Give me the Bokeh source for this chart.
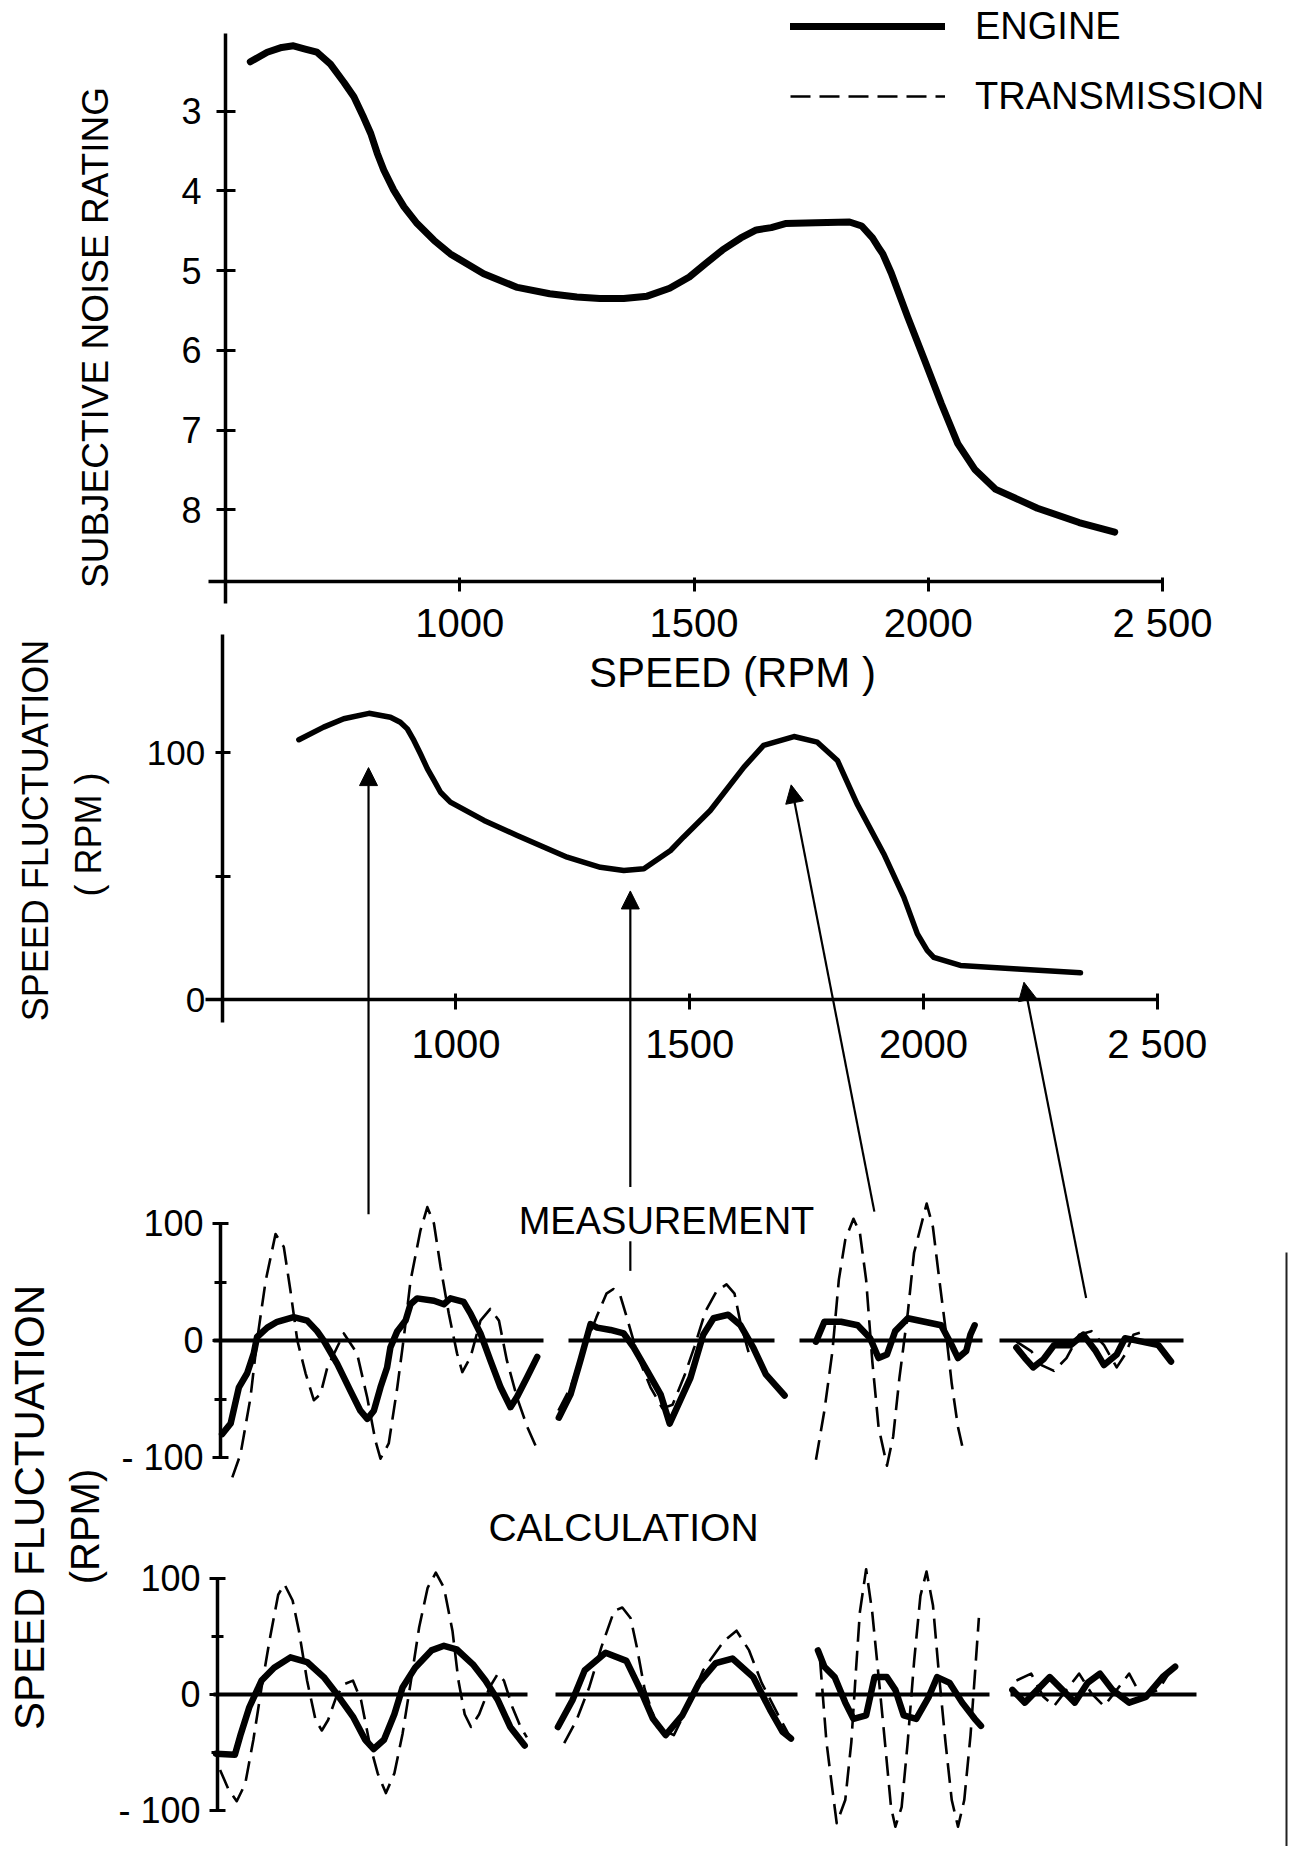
import math
from bokeh.plotting import figure
from bokeh.models import (Range1d, LinearAxis, FixedTicker, Legend, LegendItem,
                          Arrow, NormalHead, ColumnDataSource)
from bokeh.core.properties import value
from bokeh.embed import file_html
from bokeh.resources import INLINE

FONT = "Liberation Sans"

# ---------------- data ----------------
# Top: subjective noise rating vs engine speed
noise_rpm = [553, 589, 620, 645, 670, 695, 724, 753, 774, 795, 810, 824, 838, 859, 881, 909,
             945, 980, 1051, 1123, 1192, 1250, 1299, 1350, 1400, 1448, 1490, 1525, 1561, 1600,
             1633, 1665, 1695, 1760, 1832, 1858, 1881, 1894, 1903, 1921, 1956, 1992, 2028,
             2063, 2099, 2143, 2233, 2322, 2398]
noise_rating = [2.38, 2.26, 2.20, 2.18, 2.22, 2.26, 2.41, 2.64, 2.82, 3.08, 3.28, 3.53, 3.74,
                3.99, 4.20, 4.41, 4.62, 4.79, 5.04, 5.21, 5.29, 5.33, 5.35, 5.35, 5.32, 5.22,
                5.08, 4.91, 4.74, 4.59, 4.49, 4.46, 4.41, 4.40, 4.39, 4.44, 4.59, 4.71, 4.79,
                5.03, 5.58, 6.12, 6.67, 7.17, 7.49, 7.74, 7.98, 8.16, 8.28]

# Middle: speed fluctuation vs engine speed
fluct_rpm = [664, 717, 760, 814, 860, 881, 896, 910, 924, 939, 953, 967, 988, 1060, 1131,
             1238, 1309, 1359, 1402, 1459, 1487, 1544, 1616, 1658, 1723, 1773, 1816, 1858,
             1915, 1958, 1987, 2008, 2022, 2079, 2201, 2336]
fluct_amp = [105.3, 110.4, 113.8, 116.0, 114.4, 112.4, 109.7, 105.0, 99.6, 93.5, 88.8, 84.0,
             80.0, 72.6, 66.5, 57.7, 53.6, 52.3, 53.0, 60.4, 65.9, 76.6, 94.2, 103.0, 106.6,
             104.3, 96.9, 79.3, 59.1, 41.5, 26.6, 19.9, 17.1, 13.8, 12.4, 10.8]

# Arrows: from the traces up to the operating points
arrow_tail_rpm = [813, 1373, 1895, 2348]
arrow_tail_level = [-87, -76, -86, -121]
arrow_tip_rpm = [813, 1373, 1717, 2215]
arrow_tip_level = [94, 44, 87, 7]
marker_rpm = [1373]
marker_lo = [-110]
marker_hi = [-98]

# Trace window (percent of time window) and traces, value in RPM
WINDOW = [0, 100]

# Measurement
m1_eng_t = [2.6, 5.2, 7.7, 10.2, 12.2, 13.2, 16.3, 19.3, 24.3, 28.4, 31.4, 33.4, 37.5, 41.5,
            44.5, 46.6, 48.6, 50.6, 52.6, 53.6, 55.7, 58.2, 59.7, 61.7, 66.8, 69.8, 71.8,
            75.8, 77.9, 80.9, 83.9, 87.0, 90.0, 92.0, 95.1, 98.1]
m1_eng_v = [-80, -71, -40, -28, -11, 3, 11, 16, 20, 17, 8, 0, -20, -43, -60, -67, -60, -40,
            -23, -6, 8, 17, 31, 36, 34, 31, 36, 33, 23, 6, -17, -40, -57, -48, -31, -14]
m1_trn_t = [5.7, 8.2, 11.2, 13.2, 15.8, 18.8, 21.3, 23.3, 25.4, 27.9, 30.4, 32.4, 34.5, 39.5,
            43.5, 46.6, 49.1, 50.6, 53.1, 55.7, 57.7, 59.7, 62.7, 64.8, 66.8, 68.8, 71.3,
            73.8, 75.4, 77.9, 80.9, 83.9, 86.5, 88.9, 92.0, 95.1, 97.6]
m1_trn_v = [-117, -97, -49, 0, 51, 91, 80, 43, 0, -28, -51, -46, -23, 6, -11, -49, -86, -101,
            -88, -40, 3, 51, 94, 114, 100, 63, 23, -11, -27, -14, 17, 27, 17, -17, -49, -74, -90]

m2_eng_t = [-4.7, 1.0, 5.8, 10.7, 13.9, 20.4, 26.8, 31.7, 38.2, 44.7, 49.1, 59.2, 65.4, 70.4,
            77.5, 83.5, 89.7, 95.8, 104.9]
m2_eng_v = [-66, -46, -17, 14, 11, 9, 6, -6, -26, -46, -71, -32, 5, 19, 22, 13, -6, -29, -47]
m2_trn_t = [-4.9, 1.0, 5.8, 13.6, 18.4, 21.8, 25.2, 29.1, 34.0, 39.8, 45.6, 50.5, 56.3, 61.2,
            66.5, 71.8, 76.7, 80.6, 83.5, 87.4]
m2_trn_v = [-60, -40, -15, 20, 40, 44, 38, 15, -15, -40, -58, -55, -30, -5, 25, 42, 48, 40, 15, -10]

m3_eng_t = [9.0, 13.6, 22.7, 31.8, 38.6, 43.2, 47.8, 52.3, 59.2, 68.3, 77.4, 83.2, 86.6, 91.1,
            93.4, 95.7]
m3_eng_v = [-1, 16, 16, 13, 2, -15, -12, 8, 19, 16, 13, -4, -15, -9, 5, 13]
m3_trn_t = [9.0, 13.6, 18.0, 21.5, 25.0, 29.5, 33.0, 36.4, 39.8, 43.2, 47.8, 51.2, 54.6, 59.2,
            62.6, 69.5, 72.9, 76.4, 79.8, 83.2, 86.6, 88.9]
m3_trn_v = [-102, -60, -9, 52, 86, 104, 92, 52, -18, -74, -107, -82, -32, 24, 75, 117, 97, 52,
            10, -37, -74, -90]

m4_eng_t = [9.2, 13.8, 18.3, 23.9, 29.6, 38.6, 45.5, 52.3, 56.8, 63.7, 68.2, 77.3, 86.4, 93.2]
m4_eng_v = [-6, -15, -23, -16, -4, -4, 5, -9, -21, -12, 2, -1, -4, -18]
m4_trn_t = [9.2, 17.2, 22.8, 29.6, 36.4, 43.3, 50.0, 56.8, 63.7, 68.2, 72.8, 79.6]
m4_trn_v = [-1, -9, -21, -26, -15, 5, 8, -4, -23, -12, 5, 8]

# Calculation
c1_eng_t = [0.8, 6.8, 8.7, 11.4, 15.3, 19.3, 24.5, 29.8, 35.1, 39.1, 44.4, 48.3, 51.0, 54.3,
            57.6, 60.2, 64.2, 69.4, 73.4, 77.4, 82.6, 86.6, 90.6, 94.5, 99.1]
c1_eng_v = [-51, -52, -34, -11, 12, 23, 32, 28, 15, 1, -19, -39, -47, -39, -17, 6, 23, 38, 42,
            39, 26, 12, -5, -28, -44]
c1_trn_t = [2.1, 4.8, 7.4, 10.1, 12.7, 15.3, 18.0, 20.6, 22.6, 25.2, 27.2, 29.8, 32.5, 34.5,
            36.5, 39.1, 41.7, 44.4, 47.0, 49.7, 52.3, 54.9, 57.6, 60.2, 62.9, 65.5, 68.2,
            70.8, 73.4, 76.1, 78.0, 80.0, 82.0, 84.6, 87.9, 90.6, 92.5, 95.2, 97.8, 99.8]
c1_trn_v = [-65, -82, -92, -77, -39, 6, 49, 86, 95, 81, 55, 12, -22, -31, -22, -2, 9, 12, -5,
            -42, -68, -85, -68, -34, 12, 58, 92, 105, 92, 55, 12, -17, -28, -17, 6, 18, 12,
            -11, -28, -37]

c2_eng_t = [1.0, 7.0, 12.1, 20.7, 29.3, 35.1, 40.3, 45.5, 52.4, 59.3, 66.2, 73.1, 81.7, 88.6,
            93.8, 97.3]
c2_eng_v = [-28, -5, 21, 36, 29, 4, -21, -35, -18, 10, 27, 31, 15, -13, -32, -38]
c2_trn_t = [3.6, 8.7, 13.9, 19.0, 24.2, 27.6, 31.0, 33.6, 36.8, 42.0, 48.9, 54.1, 61.0, 69.6,
            74.8, 80.0, 85.2, 92.1, 97.3]
c2_trn_v = [-42, -22, 6, 41, 72, 75, 66, 41, 5, -28, -35, -13, 21, 46, 55, 38, 10, -18, -38]

c3_eng_t = [1.4, 5.1, 11.0, 17.1, 21.8, 29.1, 33.9, 41.0, 45.9, 50.7, 57.9, 65.1, 69.9, 77.1,
            84.3, 91.5, 95.1]
c3_eng_v = [38, 24, 15, -7, -21, -18, 15, 15, 4, -18, -21, -2, 15, 10, -7, -21, -27]
c3_trn_t = [2.6, 6.3, 9.8, 12.2, 17.1, 20.6, 23.0, 25.5, 29.1, 32.6, 36.3, 39.9, 43.4, 45.9,
            49.5, 53.0, 56.7, 60.3, 63.8, 67.5, 71.1, 74.7, 78.3, 81.9, 85.5, 89.1, 91.5, 93.9]
c3_trn_v = [30, -41, -83, -111, -91, -41, 15, 71, 108, 71, 15, -41, -97, -114, -97, -41, 29,
            85, 106, 77, 15, -41, -91, -114, -91, -35, 15, 66]

c4_eng_t = [1.0, 7.7, 14.4, 21.1, 27.9, 34.6, 41.4, 48.1, 54.8, 63.8, 72.8, 81.8, 88.5]
c4_eng_v = [4, -7, 4, 15, 4, -7, 10, 18, 4, -7, -2, 15, 24]
c4_trn_t = [3.2, 11.1, 17.7, 23.4, 30.1, 36.9, 43.5, 50.3, 57.1, 63.8, 70.5, 79.5, 86.3]
c4_trn_v = [12, 18, -2, -10, 4, 18, 1, -10, 4, 18, -2, 4, 21]

# ---------------- layout (page pixels) ----------------
W, H, OFF = 1288, 1846, 0
MEAS_WIN = [(213, 543), (568, 774), (799, 982), (999, 1183)]
CALC_WIN = [(213, 527), (555, 797), (815, 989), (1010, 1196)]


def xr(v1, p1, v2, p2):
    k = (v2 - v1) / (p2 - p1)
    return Range1d(start=v1 + (OFF - p1) * k, end=v1 + (OFF + W - p1) * k)


def yr(v1, p1, v2, p2):
    k = (v2 - v1) / (p2 - p1)
    return Range1d(start=v1 + (OFF + H - p1) * k, end=v1 + (OFF - p1) * k)


p = figure(width=W, height=H, x_range=Range1d(OFF, OFF + W), y_range=Range1d(OFF + H, OFF),
           x_axis_type=None, y_axis_type=None, output_backend="svg",
           toolbar_location=None, min_border=0)
p.outline_line_color = None
p.background_fill_color = "white"

xranges = {"top": xr(500, 225, 2500, 1162), "mid": xr(500, 221.7, 2500, 1156.7)}
for i, (a, b) in enumerate(MEAS_WIN):
    xranges[f"m{i}"] = xr(WINDOW[0], a, WINDOW[1], b)
for i, (a, b) in enumerate(CALC_WIN):
    xranges[f"c{i}"] = xr(WINDOW[0], a, WINDOW[1], b)
p.extra_x_ranges = xranges
p.extra_y_ranges = {"noise": yr(3, 110.7, 8, 509.3), "fluct": yr(0, 999, 100, 752.3),
                    "meas": yr(0, 1340, 100, 1223), "calc": yr(0, 1694, 100, 1578)}


def axis(side, xname, yname, loc, ticks, minor, overrides, bounds, tin, tout, standoff,
         fsize, mtin=0, mtout=0):
    ax = LinearAxis(x_range_name=xname, y_range_name=yname, fixed_location=loc,
                    ticker=FixedTicker(ticks=ticks, minor_ticks=minor), bounds=bounds,
                    major_label_overrides=overrides, major_tick_in=tin, major_tick_out=tout,
                    minor_tick_in=mtin, minor_tick_out=mtout, major_label_standoff=standoff,
                    axis_line_width=3.5, major_tick_line_width=3, minor_tick_line_width=3,
                    axis_line_color="black", major_tick_line_color="black",
                    minor_tick_line_color="black", major_label_text_color="black",
                    major_label_text_font=FONT, major_label_text_font_size=f"{fsize}px")
    p.add_layout(ax, side)
    return ax


# top chart axes
axis("left", "top", "noise", 500, [3, 4, 5, 6, 7, 8], [], {}, (2.03, 9.17), 10, 9, 15, 36)
axis("below", "top", "noise", 8.9, [1000, 1500, 2000, 2500], [], {2500: "2 500"},
     (464, 2500), 4, 10, 9, 40)
# middle chart axes
axis("left", "mid", "fluct", 500, [0, 100], [50], {}, (-9.5, 148), 8, 7, 10, 35, 8, 7)
axis("below", "mid", "fluct", 0, [1000, 1500, 2000, 2500], [], {2500: "2 500"},
     (464, 2500), 6, 10, 12, 40)
# trace panels
axis("left", "default", "meas", 220, [-100, 0, 100], [-50, 50], {-100: "- 100"},
     (-100, 100), 8, 8, 9, 36, 6, 6)
axis("left", "default", "calc", 217, [-100, 0, 100], [-50, 50], {-100: "- 100"},
     (-100, 100), 8, 8, 9, 36, 6, 6)

# curves
r_engine = p.line(noise_rpm, noise_rating, x_range_name="top", y_range_name="noise",
                  line_width=7, line_color="black", line_join="round", line_cap="round")
p.line(fluct_rpm, fluct_amp, x_range_name="mid", y_range_name="fluct",
       line_width=5.5, line_color="black", line_join="round", line_cap="round")

traces = [
    ("m0", "meas", m1_eng_t, m1_eng_v, m1_trn_t, m1_trn_v),
    ("m1", "meas", m2_eng_t, m2_eng_v, m2_trn_t, m2_trn_v),
    ("m2", "meas", m3_eng_t, m3_eng_v, m3_trn_t, m3_trn_v),
    ("m3", "meas", m4_eng_t, m4_eng_v, m4_trn_t, m4_trn_v),
    ("c0", "calc", c1_eng_t, c1_eng_v, c1_trn_t, c1_trn_v),
    ("c1", "calc", c2_eng_t, c2_eng_v, c2_trn_t, c2_trn_v),
    ("c2", "calc", c3_eng_t, c3_eng_v, c3_trn_t, c3_trn_v),
    ("c3", "calc", c4_eng_t, c4_eng_v, c4_trn_t, c4_trn_v),
]
r_trans = None
for xn, yn, et, ev, tt, tv in traces:
    p.segment(x0=[WINDOW[0]], y0=[0], x1=[WINDOW[1]], y1=[0], x_range_name=xn,
              y_range_name=yn, line_width=4, line_color="black")
    r = p.line(tt, tv, x_range_name=xn, y_range_name=yn, line_width=2.6, line_color="black",
               line_dash="20 9", line_join="round")
    if r_trans is None:
        r_trans = r
    p.line(et, ev, x_range_name=xn, y_range_name=yn, line_width=6.5, line_color="black",
           line_join="round", line_cap="round")

# arrows
asrc = ColumnDataSource(dict(xs=arrow_tail_rpm, ys=arrow_tail_level,
                             xe=arrow_tip_rpm, ye=arrow_tip_level))
p.add_layout(Arrow(end=NormalHead(size=18, fill_color="black", line_color="black",
                                  line_width=1),
                   x_start="xs", y_start="ys", x_end="xe", y_end="ye", source=asrc,
                   x_range_name="mid", y_range_name="fluct",
                   line_width=2.2, line_color="black"))
p.segment(x0=marker_rpm, y0=marker_lo, x1=marker_rpm, y1=marker_hi, x_range_name="mid",
          y_range_name="fluct", line_width=2.2, line_color="black")

# page edge visible on the right of the scanned figure
p.segment(x0=[1286], y0=[1252], x1=[1286], y1=[OFF + H], line_width=2, line_color="#222222")


# texts (page coordinates, anchored at their centre)
def txt(x, y, s, size, angle=0.0):
    p.text(x=[x], y=[y], text=[s], angle=angle, text_font=value(FONT),
           text_font_size=value(f"{size}px"), text_align="center",
           text_baseline="middle", text_color="black")


txt(95, 337, "SUBJECTIVE NOISE RATING", 37, math.pi / 2)
txt(732, 672, "SPEED (RPM )", 42)
txt(34.6, 830, "SPEED FLUCTUATION", 36, math.pi / 2)
txt(87.5, 834, "( RPM )", 36, math.pi / 2)
txt(666, 1220, "MEASUREMENT", 38)
txt(623, 1527, "CALCULATION", 39)
txt(29, 1507, "SPEED FLUCTUATION", 42, math.pi / 2)
txt(84, 1526, "(RPM)", 40, math.pi / 2)

# legend
leg = Legend(items=[LegendItem(label="ENGINE", renderers=[r_engine]),
                    LegendItem(label="TRANSMISSION", renderers=[r_trans])],
             location=(790, H - 121), orientation="vertical", glyph_width=155,
             glyph_height=50, label_height=50, spacing=20, label_standoff=30,
             padding=0, margin=0, border_line_color=None, background_fill_alpha=0,
             label_text_font=FONT, label_text_font_size="38px", label_text_color="black")
p.add_layout(leg)

open("out.html", "w").write(file_html(p, INLINE))
